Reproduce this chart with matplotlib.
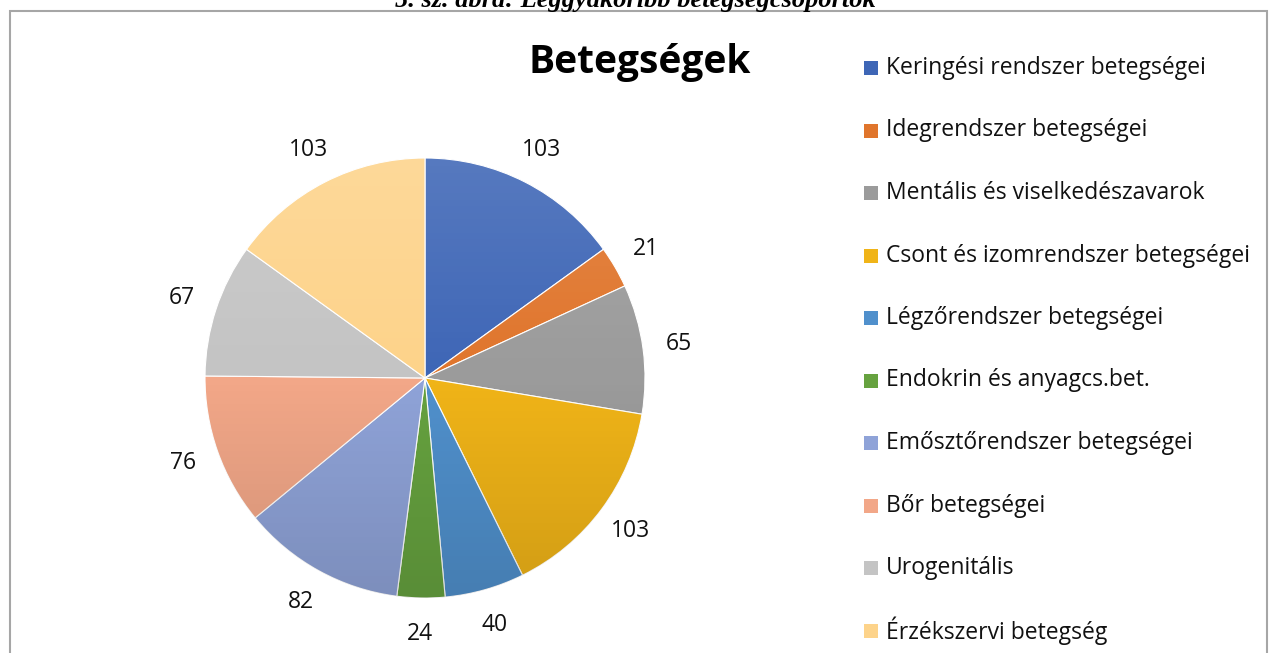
import matplotlib
matplotlib.use("Agg")
import matplotlib.pyplot as plt
import numpy as np
from matplotlib.patches import Rectangle, Circle

categories = ["Keringési rendszer betegségei", "Idegrendszer betegségei",
              "Mentális és viselkedészavarok", "Csont és izomrendszer betegségei",
              "Légzőrendszer betegségei", "Endokrin és anyagcs.bet.",
              "Emősztőrendszer betegségei", "Bőr betegségei", "Urogenitális",
              "Érzékszervi betegség"]
values = [103, 21, 65, 103, 40, 24, 82, 76, 67, 103]
colors = ["#3E66B6", "#E0752C", "#9B9B9B", "#F0B418", "#5090CC", "#66A23F",
          "#8FA3D8", "#F2A788", "#C4C4C4", "#FDD38A"]
title = "Betegségek"
caption = "5. sz. ábra: Leggyakoribb betegségcsoportok"

W, H = 1269, 653
fig = plt.figure(figsize=(W / 100, H / 100), dpi=100)
ax = fig.add_axes([0, 0, 1, 1])

font = "Open Sans"
cx, cy, R = 425, H - 378, 220

wedges, texts = ax.pie(values, colors=colors, startangle=90, counterclock=False,
                       center=(cx, cy), radius=R,
                       labels=[str(v) for v in values], labeldistance=1.165,
                       wedgeprops=dict(linewidth=0.8, edgecolor="white"),
                       textprops=dict(fontsize=16.5, family=font, color="#111111"))
for t in texts:
    t.set_ha("center")
    t.set_va("center")

# subtle vertical shading over the pie (lighter top, darker bottom)
tt = np.linspace(0, 1, 256)[:, None] * np.ones((1, 2))
grad = np.zeros((256, 2, 4))
rgb = np.where(tt < 0.5, 1.0, 0.0)
for k in range(3):
    grad[..., k] = rgb
grad[..., 3] = np.abs(tt - 0.5) * 2 * 0.13
im = ax.imshow(grad, extent=(cx - R, cx + R, cy - R, cy + R), origin="upper",
               interpolation="bilinear", zorder=5, aspect="auto")
clip = Circle((cx, cy), R, transform=ax.transData)
im.set_clip_path(clip)

ax.set_xlim(0, W)
ax.set_ylim(0, H)
ax.set_aspect("equal")
ax.axis("off")

# chart border
ax.add_patch(Rectangle((10, -5), W - 12, H - 11 + 5, fill=False,
                       edgecolor="#A6A6A6", linewidth=1.5, zorder=0))
# caption (clipped at top)
ax.text(635, H - 7, caption, family="Liberation Serif", fontweight="bold",
        style="italic", fontsize=19, ha="center", va="baseline", color="black")

ax.text(640, H - 63, title, fontsize=28, fontweight="bold", family=font,
        ha="center", va="center", color="black")

# legend
y0 = H - 68
dy = 62.5
for i, (c, col) in enumerate(zip(categories, colors)):
    y = y0 - i * dy
    ax.add_patch(Rectangle((864, y - 7), 14, 14, facecolor=col, edgecolor="none"))
    ax.text(886, y, c, fontsize=16.5, family=font, ha="left", va="center",
            color="#111111")

fig.savefig("out.png", dpi=100)
